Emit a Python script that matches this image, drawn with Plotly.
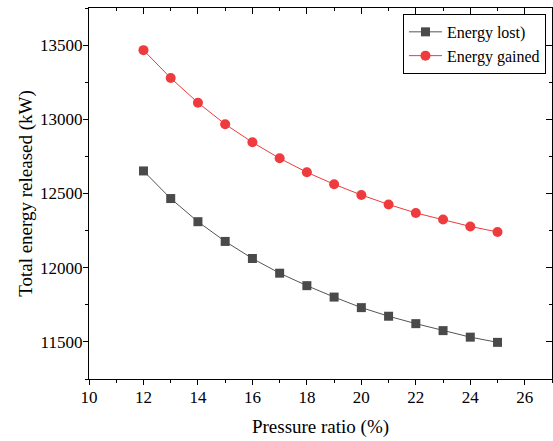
import plotly.graph_objects as go

pressure_ratio = [12, 13, 14, 15, 16, 17, 18, 19, 20, 21, 22, 23, 24, 25]
energy_lost = [12652, 12466, 12310, 12177, 12062, 11963, 11879, 11802, 11731, 11673, 11623, 11576, 11532, 11497]
energy_gained = [13466, 13278, 13112, 12967, 12845, 12737, 12643, 12562, 12490, 12426, 12369, 12325, 12278, 12241]

x_ticks = [10, 12, 14, 16, 18, 20, 22, 24, 26]
y_ticks = [11500, 12000, 12500, 13000, 13500]

FONT = "Liberation Serif"
GRAY = "#4a4a4a"
RED = "#ee3b3d"

fig = go.Figure()
fig.add_trace(go.Scatter(
    x=pressure_ratio, y=energy_lost, name="Energy lost)",
    mode="lines+markers",
    line=dict(color="#555555", width=1),
    marker=dict(symbol="square", size=9, color=GRAY),
))
fig.add_trace(go.Scatter(
    x=pressure_ratio, y=energy_gained, name="Energy gained",
    mode="lines+markers",
    line=dict(color=RED, width=1),
    marker=dict(symbol="circle", size=10, color=RED),
))

axis_common = dict(showgrid=False, zeroline=False, showline=True, linecolor="black",
                   linewidth=1.3, tickcolor="black", tickwidth=1.3, automargin=False)

fig.update_layout(
    width=553, height=441,
    margin=dict(l=89, r=1, t=8, b=62),
    paper_bgcolor="white", plot_bgcolor="white",
    font=dict(family=FONT, color="black", size=17),
    xaxis=dict(range=[10, 27], tickvals=x_ticks, ticks="outside", ticklen=5,
               minor=dict(dtick=1, ticks="outside", ticklen=3, tickcolor="black", tickwidth=1.3),
               title=dict(text="Pressure ratio (%)", font=dict(size=19, family=FONT), standoff=14),
               tickfont=dict(size=17, family=FONT), tickformat="d", ticklabelstandoff=-3,
               **axis_common),
    yaxis=dict(range=[11250, 13750], tickvals=y_ticks, ticks="outside", ticklen=5,
               minor=dict(dtick=250, tick0=11250, ticks="outside", ticklen=3, tickcolor="black", tickwidth=1.3),
               title=dict(text="Total energy released (kW)", font=dict(size=19, family=FONT), standoff=2),
               tickfont=dict(size=17, family=FONT), tickformat="d", ticklabelstandoff=-3,
               **axis_common),
    xaxis2=dict(range=[10, 27], overlaying="x", side="top", tickvals=x_ticks, ticks="inside",
                ticklen=6, showticklabels=False,
                minor=dict(dtick=1, ticks="inside", ticklen=3, tickcolor="black", tickwidth=1.3),
                **axis_common),
    yaxis2=dict(range=[11250, 13750], overlaying="y", side="right", tickvals=y_ticks, ticks="inside",
                ticklen=6, showticklabels=False,
                minor=dict(dtick=250, tick0=11250, ticks="inside", ticklen=3, tickcolor="black", tickwidth=1.3),
                **axis_common),
    legend=dict(x=0.987, y=0.984, xanchor="right", yanchor="top",
                bordercolor="black", borderwidth=1, bgcolor="white",
                font=dict(size=16, family=FONT), itemwidth=33,
                tracegroupgap=0),
    showlegend=True,
)
fig.add_trace(go.Scatter(x=[None], y=[None], xaxis="x2", yaxis="y2", showlegend=False, hoverinfo="skip"))

fig.write_html("out.html", config={"displayModeBar": False},
               post_script="document.body.style.margin='0';document.body.style.overflow='hidden';")
